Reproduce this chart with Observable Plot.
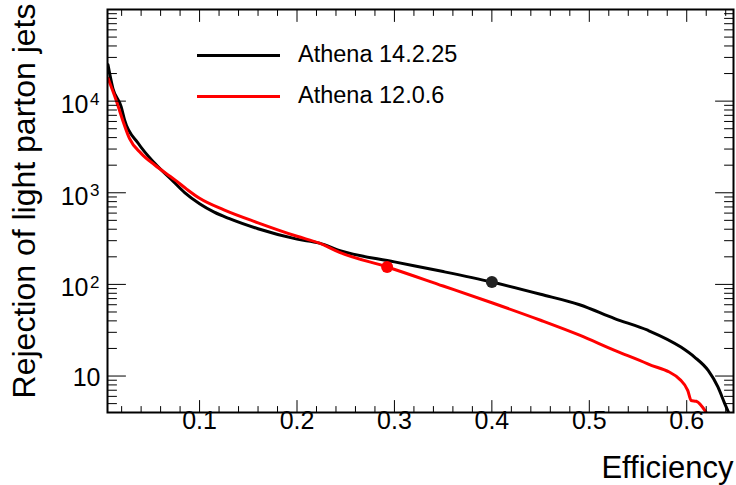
<!DOCTYPE html>
<html>
<head>
<meta charset="utf-8">
<script src="https://cdn.jsdelivr.net/npm/d3@7"></script>
<script src="https://cdn.jsdelivr.net/npm/@observablehq/plot@0.6"></script>
<style>
  body { margin: 0; background: #fff; }
  #wrap { position: relative; width: 736px; height: 485px; font-family: "Liberation Sans", Arial, sans-serif; }
  .legline { position: absolute; height: 3px; }
  .legtext { position: absolute; font-size: 23.5px; line-height: 23.5px; white-space: nowrap; color: #000; }
</style>
</head>
<body>
<div id="wrap"></div>
<script>
// ---- data ----
const seriesNames = ["Athena 14.2.25", "Athena 12.0.6"];
const seriesColors = ["#000000", "#ff0000"];

const effBlack = [0.006, 0.011, 0.0195, 0.023, 0.037, 0.054, 0.073, 0.085, 0.1, 0.115, 0.13, 0.16, 0.2, 0.223, 0.245, 0.3, 0.35, 0.4, 0.45, 0.49, 0.526, 0.56, 0.594, 0.608, 0.622, 0.632, 0.639, 0.643];
const rejBlack = [24900, 13800, 8700, 6240, 3470, 2095, 1330, 1000, 760, 615, 525, 405, 312, 282, 232, 176, 138, 106, 78, 60, 42.4, 31.6, 20.7, 16.1, 11.5, 7.6, 5.0, 4.0];

const effRed = [0.006, 0.0143, 0.021, 0.028, 0.04, 0.054, 0.074, 0.087, 0.1, 0.125, 0.16, 0.2, 0.223, 0.245, 0.2925, 0.35, 0.4, 0.45, 0.49, 0.526, 0.56, 0.594, 0.601, 0.6046, 0.6098, 0.62];
const rejRed = [17800, 10300, 6240, 3930, 2690, 2010, 1400, 1090, 870, 650, 470, 335, 282, 221, 155, 96, 63, 40.6, 27.9, 19.1, 13.6, 8.97, 6.98, 5.4, 5.3, 4.0];

const wpEff = [0.4, 0.2925];
const wpRej = [106, 155];
const wpColors = ["#222222", "#ff0000"];

const xTickValues = [0.1, 0.2, 0.3, 0.4, 0.5, 0.6];
const xTickLabels = ["0.1", "0.2", "0.3", "0.4", "0.5", "0.6"];
const yTickValues = [10, 100, 1000, 10000];
const yTickBase = ["10", "10", "10", "10"];
const yTickExp = ["", "2", "3", "4"];
const xTitle = "Efficiency";
const yTitle = "Rejection of light parton jets";

// ---- tables ----
const blackData = effBlack.map((e, i) => ({eff: e, rej: rejBlack[i]}));
const redData = effRed.map((e, i) => ({eff: e, rej: rejRed[i]}));
const wpData = wpEff.map((e, i) => ({eff: e, rej: wpRej[i], color: wpColors[i]}));

const xDomain = [0.0055, 0.648];
const yDomain = [4, 1e5];

// axis structure (minor ticks)
const xMinor = d3.range(1, 33).map(k => k * 0.02).filter(v => v > xDomain[0] && v < xDomain[1] && Math.abs(v * 10 - Math.round(v * 10)) > 1e-6);
const yMinor = [];
for (const dec of [1, 10, 100, 1000, 10000]) for (let m = 2; m <= 9; m++) { const v = m * dec; if (v > yDomain[0] && v < yDomain[1]) yMinor.push(v); }

const tickShape = {draw(ctx, l) { ctx.moveTo(0, 0); ctx.lineTo(0, -l); }};
function xTicks(vals, len, anchor) {
  return Plot.vector(vals, {x: d => d, frameAnchor: anchor, length: len, rotate: anchor === "bottom" ? 0 : 180, anchor: "start", shape: tickShape, stroke: "#000", strokeWidth: 1});
}
function yTicks(vals, len, anchor) {
  return Plot.vector(vals, {y: d => d, frameAnchor: anchor, length: len, rotate: anchor === "left" ? 90 : -90, anchor: "start", shape: tickShape, stroke: "#000", strokeWidth: 1});
}

const chart = Plot.plot({
  width: 736, height: 485,
  marginLeft: 107, marginRight: 3, marginTop: 9, marginBottom: 73,
  style: {fontFamily: "'Liberation Sans', Arial, sans-serif", background: "#fff", overflow: "visible"},
  x: {domain: xDomain, axis: null},
  y: {type: "log", domain: yDomain, axis: null},
  marks: [
    Plot.line(blackData, {x: "eff", y: "rej", stroke: seriesColors[0], strokeWidth: 3, curve: "monotone-x", clip: true}),
    Plot.line(redData, {x: "eff", y: "rej", stroke: seriesColors[1], strokeWidth: 3, curve: "monotone-x", clip: true}),
    Plot.dot(wpData, {x: "eff", y: "rej", r: 6, fill: "color", stroke: null}),
    xTicks(xTickValues, 12, "bottom"), xTicks(xMinor, 6, "bottom"),
    xTicks(xTickValues, 12, "top"), xTicks(xMinor, 6, "top"),
    yTicks(yTickValues, 18, "left"), yTicks(yMinor, 9, "left"),
    yTicks(yTickValues, 18, "right"), yTicks(yMinor, 9, "right"),
    Plot.frame({stroke: "#000", strokeWidth: 2}),
    Plot.text(xTickValues, {x: d => d, text: (d, i) => xTickLabels[i], frameAnchor: "bottom", dy: 16, fontSize: 25, fill: "#000"}),
    Plot.text(yTickValues, {filter: (d, i) => yTickExp[i] === "", y: d => d, text: (d, i) => yTickBase[i], frameAnchor: "left", textAnchor: "end", dx: -7, dy: 2, fontSize: 25, fill: "#000"}),
    Plot.text(yTickValues, {filter: (d, i) => yTickExp[i] !== "", y: d => d, text: (d, i) => yTickBase[i], frameAnchor: "left", textAnchor: "end", dx: -19, dy: 4, fontSize: 25, fill: "#000"}),
    Plot.text(yTickValues, {filter: (d, i) => yTickExp[i] !== "", y: d => d, text: (d, i) => yTickExp[i], frameAnchor: "left", textAnchor: "end", dx: -8, dy: -2, fontSize: 17, fill: "#000"}),
    Plot.text([xTitle], {frameAnchor: "bottom-right", textAnchor: "end", lineAnchor: "bottom", dy: 65, fontSize: 31, fill: "#000"}),
    Plot.text([yTitle], {frameAnchor: "top-left", textAnchor: "end", lineAnchor: "middle", rotate: -90, dx: -83, dy: -6, fontSize: 32, fill: "#000"})
  ]
});

const wrap = document.getElementById("wrap");
wrap.appendChild(chart);

// legend (HTML overlay)
const legY = [55.7, 96];
const legTextTop = [43.4, 84.1];
seriesNames.forEach((name, i) => {
  const ln = document.createElement("div");
  ln.className = "legline";
  ln.style.left = "197px"; ln.style.width = "83px";
  ln.style.top = (legY[i] - 1.5) + "px";
  ln.style.background = seriesColors[i];
  wrap.appendChild(ln);
  const tx = document.createElement("div");
  tx.className = "legtext";
  tx.style.left = "298px"; tx.style.top = legTextTop[i] + "px";
  tx.textContent = name;
  wrap.appendChild(tx);
});
</script>
</body>
</html>
